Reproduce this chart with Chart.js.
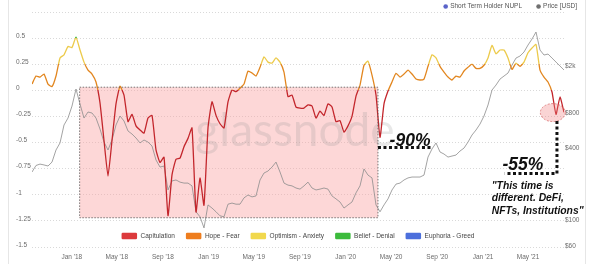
<!DOCTYPE html>
<html>
<head>
<meta charset="utf-8">
<script src="https://cdn.jsdelivr.net/npm/chart.js@4.4.1/dist/chart.umd.min.js"></script>
<style>
  html, body { margin: 0; padding: 0; background: #fff; }
  #wrap { position: relative; width: 600px; height: 264px; }
</style>
</head>
<body>
<div id="wrap"><canvas id="chart" width="600" height="264"></canvas></div>
<script>
// samples every ~10.66 days starting mid Sep 2017
const startDate = '2017-09-17';
const stepDays = 10.66;

const nupl = [
	0.06, 0.137, 0.127, 0.156, 0.06, 0.036, 0.137, 0.31, 0.34, 0.42,
	0.41, 0.51, 0.386, 0.27, 0.194, 0.156, 0.08, -0.12, -0.48, -0.82,
	-0.48, -0.13, 0.04, -0.045, -0.30, -0.23, -0.34, -0.38, -0.41, -0.265,
	-0.24, -0.57, -0.69, -0.64, -1.2, -0.81, -0.66, -0.65, -0.54, -0.46,
	-0.36, -1.165, -0.84, -1.10, -0.36, -0.11, -0.24, -0.32, -0.36, -0.11,
	0.003, -0.013, 0.02, 0.06, 0.185, 0.166, 0.137, 0.22, 0.32, 0.27,
	0.26, 0.31, 0.27, 0.175, -0.06, -0.045, -0.16, -0.17, -0.17, -0.14,
	-0.15, -0.265, -0.2, -0.24, -0.13, -0.16, -0.3, -0.29, -0.4, -0.34,
	-0.25, -0.055, 0.05, 0.24, 0.28, 0.146, -0.045, -0.45, -0.13, -0.007,
	0.08, 0.163, 0.127, 0.156, 0.194, 0.156, 0.108, 0.099, 0.108, 0.23,
	0.34, 0.31, 0.23, 0.175, 0.127, 0.099, 0.137, 0.127, 0.185, 0.22,
	0.25, 0.21, 0.21, 0.24, 0.31, 0.43, 0.35, 0.386, 0.386, 0.31,
	0.2, 0.26, 0.23, 0.27, 0.36, 0.405, 0.44, 0.194, 0.127, 0.08,
	-0.016, -0.23, -0.064, -0.21
];

const price = [
	258, 293, 301, 296, 290, 313, 396, 454, 644, 737,
	931, 1296, 968, 737, 829, 813, 737, 595, 462, 396,
	481, 644, 767, 696, 573, 540, 500, 454, 481, 462,
	428, 326, 284, 290, 182, 217, 221, 212, 208, 208,
	197, 119, 108, 87, 136, 128, 119, 110, 108, 138,
	141, 138, 138, 156, 165, 159, 162, 221, 253, 263,
	284, 313, 258, 208, 200, 197, 189, 185, 197, 212,
	189, 182, 185, 189, 185, 162, 153, 144, 128, 136,
	144, 172, 197, 274, 243, 230, 136, 119, 136, 153,
	182, 204, 208, 221, 230, 234, 234, 234, 243, 345,
	404, 454, 381, 366, 345, 352, 359, 388, 411, 462,
	530, 584, 656, 767, 950, 1271, 1401, 1574, 1669, 1769,
	2067, 2368, 2463, 2662, 3050, 3428, 3928, 2768, 2511, 2560,
	2368, 2191, 2027, 1876
];

const monthTicks = ['2018-01-01', '2018-05-01', '2018-09-01', '2019-01-01', '2019-05-01', '2019-09-01',
	'2020-01-01', '2020-05-01', '2020-09-01', '2021-01-01', '2021-05-01'];
const monthLabels = ["Jan '18", "May '18", "Sep '18", "Jan '19", "May '19", "Sep '19",
	"Jan '20", "May '20", "Sep '20", "Jan '21", "May '21"];

const nuplTicks = [-1.5, -1.25, -1, -0.75, -0.5, -0.25, 0, 0.25, 0.5, 0.75];
const priceTicks = [60, 100, 400, 800, 2000];
const priceTickLabels = ['$60', '$100', '$400', '$800', '$2k'];

const phases = ['Capitulation', 'Hope - Fear', 'Optimism - Anxiety', 'Belief - Denial', 'Euphoria - Greed'];
const phaseColors = ['#dc3a3c', '#ee7d1e', '#f1d84d', '#3cbb3c', '#4c6fdc'];
const lineColors = ['#c3262c', '#e2861f', '#ecca4a', '#39b039', '#4c6fdc'];
const phaseBounds = [0, 0.25, 0.5, 0.75];

// hand drawn notes on the picture
const crashBox = { from: '2018-01-22', to: '2020-03-27', top: 0.03, bottom: -1.22 };
const drop90 = { from: '2020-03-27', to: '2020-08-17', level: -0.548, textAt: '2020-04-27', textLevel: -0.53, text: '-90%' };
const drop55 = { from: '2021-02-28', at: '2021-07-17', top: -0.294, level: -0.797, textAt: '2021-02-22', textLevel: -0.763, text: '-55%' };
const circleAt = { date: '2021-07-06', level: -0.213 };
const quoteAt = { date: '2021-01-24', levels: [-0.94, -1.062, -1.182] };
const quote = ['"This time is', 'different. DeFi,', 'NFTs, Institutions"'];

const epoch = Date.UTC(2018, 0, 1);
function dayOf(s) {
	const [y, m, d] = s.split('-').map(Number);
	return (Date.UTC(y, m - 1, d) - epoch) / 864e5;
}

const x0 = dayOf(startDate);
const xs = nupl.map((v, i) => x0 + i * stepDays);

Chart.defaults.font.family = '"Liberation Sans", Arial, sans-serif';

const tickFont = { size: 6.5 };
const tickColor = '#6b6b6b';

function nuplGradient(context) {
	const chart = context.chart;
	const area = chart.chartArea;
	if (!area) return lineColors[0];
	const y = chart.scales.y;
	const g = chart.ctx.createLinearGradient(0, area.bottom, 0, area.top);
	const pos = v => Math.min(1, Math.max(0, (area.bottom - y.getPixelForValue(v)) / (area.bottom - area.top)));
	let prev = 0;
	phaseBounds.forEach((b, k) => {
		const p = pos(b);
		g.addColorStop(prev, lineColors[k]);
		g.addColorStop(p, lineColors[k]);
		prev = p;
	});
	g.addColorStop(prev, lineColors[phaseBounds.length]);
	g.addColorStop(1, lineColors[phaseBounds.length]);
	return g;
}

function dotted(ctx, pts, width, dash, color) {
	ctx.save();
	ctx.strokeStyle = color;
	ctx.lineWidth = width;
	ctx.setLineDash(dash);
	ctx.beginPath();
	ctx.moveTo(pts[0][0], pts[0][1]);
	for (let i = 1; i < pts.length; i++) ctx.lineTo(pts[i][0], pts[i][1]);
	ctx.stroke();
	ctx.restore();
}

const overlay = {
	id: 'overlay',
	beforeDraw(chart) {
		const ctx = chart.ctx;
		ctx.save();
		ctx.fillStyle = '#fff';
		ctx.fillRect(0, 0, chart.width, chart.height);
		ctx.strokeStyle = '#e6e6e6';
		ctx.lineWidth = 1;
		ctx.beginPath();
		ctx.moveTo(8.5, 0); ctx.lineTo(8.5, chart.height);
		ctx.moveTo(585.5, 0); ctx.lineTo(585.5, chart.height);
		ctx.stroke();
		ctx.restore();
	},
	beforeDatasetsDraw(chart) {
		const ctx = chart.ctx;
		const { x, y } = chart.scales;
		const area = chart.chartArea;
		const bx1 = x.getPixelForValue(dayOf(crashBox.from));
		const bx2 = x.getPixelForValue(dayOf(crashBox.to));
		const by1 = y.getPixelForValue(crashBox.top);
		const by2 = y.getPixelForValue(crashBox.bottom);
		ctx.save();
		ctx.fillStyle = 'rgba(250, 160, 160, 0.42)';
		ctx.fillRect(bx1, by1, bx2 - bx1, by2 - by1);
		// watermark
		ctx.font = '46px Lato, "Open Sans", sans-serif';
		ctx.fillStyle = 'rgba(150, 150, 150, 0.22)';
		ctx.textAlign = 'center';
		ctx.textBaseline = 'alphabetic';
		ctx.fillText('glassnode', (area.left + area.right) / 2 - 3, (area.top + area.bottom) / 2 + 16);
		ctx.restore();
	},
	afterDatasetsDraw(chart) {
		const ctx = chart.ctx;
		const { x, y } = chart.scales;
		const px = d => x.getPixelForValue(dayOf(d));
		const py = v => y.getPixelForValue(v);

		// crash box outline
		const bx1 = px(crashBox.from), bx2 = px(crashBox.to);
		const by1 = py(crashBox.top), by2 = py(crashBox.bottom);
		dotted(ctx, [[bx1, by1], [bx2, by1], [bx2, by2], [bx1, by2], [bx1, by1]], 0.8, [1.5, 1.5], '#555');

		// -90%
		dotted(ctx, [[px(drop90.from), py(drop90.level)], [px(drop90.to), py(drop90.level)]], 3, [3, 2.5], '#111');
		ctx.save();
		ctx.fillStyle = '#111';
		ctx.font = 'italic bold 17.5px "Liberation Sans", Arial, sans-serif';
		ctx.textBaseline = 'alphabetic';
		ctx.fillText(drop90.text, px(drop90.textAt), py(drop90.textLevel));
		ctx.restore();

		// circle around the latest dip
		ctx.save();
		ctx.beginPath();
		ctx.ellipse(px(circleAt.date), py(circleAt.level), 12.5, 9, 0, 0, Math.PI * 2);
		ctx.fillStyle = 'rgba(240, 120, 120, 0.32)';
		ctx.fill();
		ctx.setLineDash([2, 1.5]);
		ctx.strokeStyle = 'rgba(210, 80, 80, 0.8)';
		ctx.lineWidth = 0.8;
		ctx.stroke();
		ctx.restore();

		// -55%
		dotted(ctx, [[px(drop55.at), py(drop55.top)], [px(drop55.at), py(drop55.level)], [px(drop55.from), py(drop55.level)]], 3, [3, 2.5], '#111');
		ctx.save();
		ctx.fillStyle = '#111';
		ctx.font = 'italic bold 17.5px "Liberation Sans", Arial, sans-serif';
		ctx.fillText(drop55.text, px(drop55.textAt), py(drop55.textLevel));
		ctx.font = 'italic bold 11.5px "Liberation Sans", Arial, sans-serif';
		quote.forEach((line, i) => {
			ctx.save();
			ctx.translate(px(quoteAt.date), py(quoteAt.levels[i]));
			ctx.scale(0.9, 1);
			ctx.fillText(line, 0, 0);
			ctx.restore();
		});
		ctx.restore();

		// phase legend along the bottom of the plot
		const area = chart.chartArea;
		ctx.save();
		ctx.font = '6.5px "Liberation Sans", Arial, sans-serif';
		ctx.textBaseline = 'middle';
		const boxW = 15.5, boxH = 6.5, gapText = 3.5, gapItem = 11;
		const widths = phases.map(p => ctx.measureText(p).width);
		const total = widths.reduce((a, w) => a + boxW + gapText + w, 0) + gapItem * (phases.length - 1);
		let cx = (area.left + area.right) / 2 - total / 2;
		const cy = area.bottom - 11;
		phases.forEach((p, i) => {
			ctx.fillStyle = phaseColors[i];
			ctx.beginPath();
			ctx.roundRect(cx, cy - boxH / 2, boxW, boxH, 1.2);
			ctx.fill();
			ctx.fillStyle = '#444';
			ctx.fillText(p, cx + boxW + gapText, cy + 0.5);
			cx += boxW + gapText + widths[i] + gapItem;
		});
		ctx.restore();

		// series legend, top right
		ctx.save();
		ctx.font = '6.5px "Liberation Sans", Arial, sans-serif';
		ctx.textBaseline = 'middle';
		const items = chart.data.datasets.map(d => ({ label: d.label, color: d.legendColor }));
		let rx = 577;
		for (let i = items.length - 1; i >= 0; i--) {
			const w = ctx.measureText(items[i].label).width;
			const tx = rx - w;
			ctx.fillStyle = '#555';
			ctx.fillText(items[i].label, tx, 6.5);
			ctx.fillStyle = items[i].color;
			ctx.beginPath();
			ctx.arc(tx - 4.5, 6.5, 2.3, 0, Math.PI * 2);
			ctx.fill();
			rx = tx - 4.5 - 16.5;
		}
		ctx.restore();
	}
};

const ctx = document.getElementById('chart').getContext('2d');

new Chart(ctx, {
	type: 'line',
	data: {
		datasets: [
			{
				label: 'Short Term Holder NUPL',
				legendColor: '#5a63c9',
				data: nupl.map((v, i) => ({ x: xs[i], y: v })),
				yAxisID: 'y',
				borderColor: nuplGradient,
				borderWidth: 1.3,
				pointRadius: 0,
				tension: 0.15,
				order: 1
			},
			{
				label: 'Price [USD]',
				legendColor: '#707070',
				data: price.map((v, i) => ({ x: xs[i], y: v })),
				yAxisID: 'y1',
				borderColor: '#8c8c8c',
				borderWidth: 0.8,
				pointRadius: 0,
				tension: 0,
				order: 2
			}
		]
	},
	options: {
		responsive: false,
		animation: false,
		devicePixelRatio: 1,
		layout: { padding: { top: 12, left: 16, right: 0, bottom: 0 } },
		plugins: {
			legend: { display: false },
			tooltip: { enabled: false }
		},
		scales: {
			x: {
				type: 'linear',
				min: xs[0],
				max: xs[xs.length - 1],
				afterBuildTicks: s => { s.ticks = monthTicks.map(d => ({ value: dayOf(d) })); },
				ticks: {
					callback: (v, i) => monthLabels[i],
					font: tickFont,
					color: tickColor,
					padding: 6,
					maxRotation: 0,
					autoSkip: false
				},
				grid: { display: false, drawTicks: false },
				border: { display: false },
				afterFit: s => { s.height = 17; }
			},
			y: {
				position: 'left',
				min: -1.5,
				max: 0.75,
				afterBuildTicks: s => { s.ticks = nuplTicks.map(v => ({ value: v })); },
				ticks: {
					callback: v => (v === 0.75 ? '' : String(v)),
					crossAlign: 'far',
					labelOffset: -2,
					padding: 0,
					font: tickFont,
					color: tickColor
				},
				grid: { color: '#cfcfcf', lineWidth: 0.8, drawTicks: false },
				border: { display: false, dash: [1, 2] },
				afterFit: s => { s.width = 16; }
			},
			y1: {
				type: 'logarithmic',
				position: 'right',
				min: 60,
				max: 5800,
				afterBuildTicks: s => { s.ticks = priceTicks.map(v => ({ value: v })); },
				ticks: {
					callback: (v, i) => priceTickLabels[i],
					padding: 1,
					labelOffset: -1,
					font: tickFont,
					color: tickColor
				},
				grid: { display: false, drawTicks: false },
				border: { display: false },
				afterFit: s => { s.width = 36; }
			}
		}
	},
	plugins: [overlay]
});
</script>
</body>
</html>
